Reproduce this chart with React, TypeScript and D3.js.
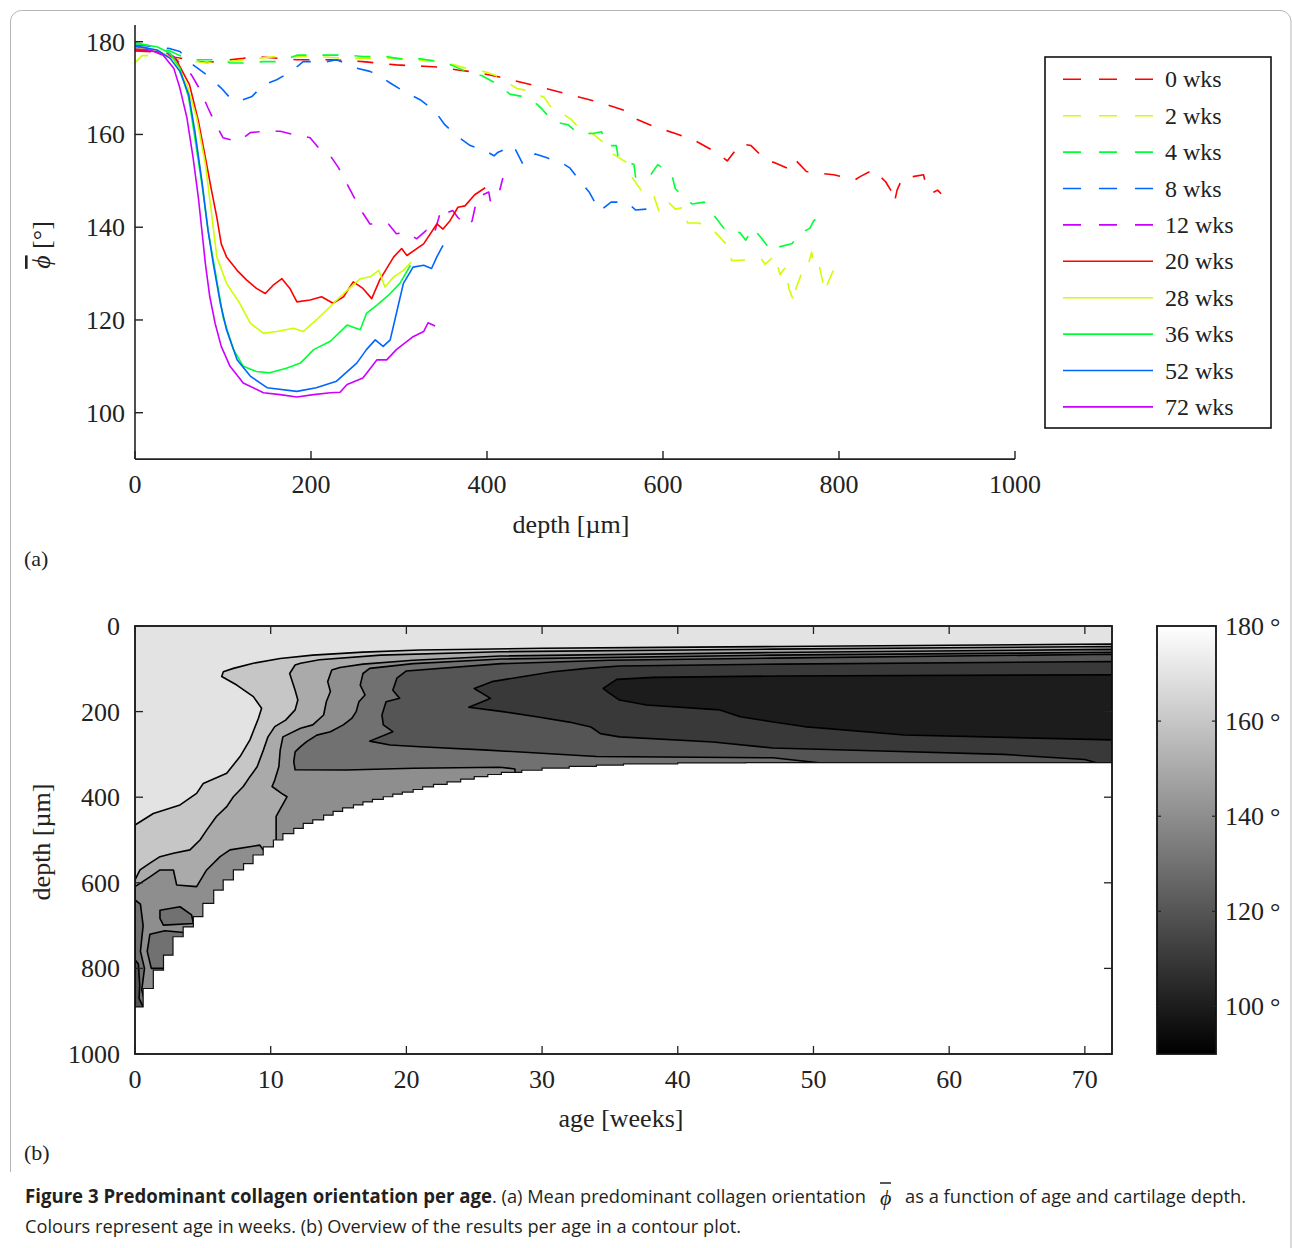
import React from "react";
import * as d3 from "d3";

type P = [number, number];

// ---------- Panel (a) data: depth [µm], mean orientation [deg] ----------
const seriesLabels = ["0 wks", "2 wks", "4 wks", "8 wks", "12 wks", "20 wks", "28 wks", "36 wks", "52 wks", "72 wks"];
const seriesColors = ["#ff0000", "#ccff00", "#00ff33", "#0066ff", "#cc00ff", "#ff0000", "#ccff00", "#00ff33", "#0066ff", "#cc00ff"];
const seriesDashed = [true, true, true, true, true, false, false, false, false, false];

const wk0: P[] = [[0,178],[20,177.8],[40,176.8],[81,175.5],[123,176.4],[138,176.8],[184,176.1],[222,176.1],[259,175.7],[297,175],[328,174.7],[347,174.5],[367,173.9],[387,173.4],[414,172.4],[453,170.6],[492,168.7],[528,166.9],[559,165],[567,163.5],[590,161.7],[614,160.2],[637,158.6],[661,156.1],[673,154.3],[688,158],[700,157.6],[716,154.6],[727,153.9],[745,152.4],[751,154.4],[763,152],[775,151.7],[794,151.3],[818,150.2],[824,150.9],[839,152.4],[853,149.8],[860,147.6],[863,145.4],[866,148],[872,150.6],[884,150.9],[896,151.3],[900,148.4],[908,147.6],[912,148],[916,147.2]];
const wk2: P[] = [[0,175.5],[8,177],[30,177],[50,176.2],[81,175.4],[100,175.6],[160,176.8],[205,176.8],[240,176.4],[300,176.4],[320,176],[340,175.8],[363,175],[375,174.3],[398,173.5],[410,172.7],[434,169.9],[445,169.5],[465,168],[473,165.8],[485,164.6],[496,163.2],[508,160.6],[520,160.2],[539,157.2],[543,155.8],[559,153.9],[563,151.3],[575,148],[581,148.3],[590,146.5],[596,143.1],[606,145.4],[614,143.9],[624,144.3],[628,140.9],[641,140.9],[657,139.4],[675,135.7],[678,132.8],[712,133.1],[716,132],[727,133.9],[733,129.8],[739,131.3],[743,126.8],[749,123.9],[751,126.8],[757,129.8],[763,130.5],[769,134.6],[772,131],[778,131.3],[784,126.1],[788,128.3],[794,130.9],[795,132.4]];
const wk4: P[] = [[0,179.8],[20,179],[40,178],[51,177],[70,176.1],[100,176.1],[108,175.4],[123,175.4],[146,175.7],[165,175.7],[184,177.1],[222,177.1],[241,177.1],[259,176.8],[285,176.8],[301,176.3],[324,176.3],[343,175.8],[359,175],[383,173],[394,172.7],[414,170.6],[426,168.7],[445,168],[457,166.5],[463,165.4],[475,162.8],[492,162.1],[504,160.2],[520,160.2],[530,160.6],[537,157.6],[547,157.6],[549,155],[567,153.5],[569,150.6],[586,151.3],[594,153.5],[610,151.3],[614,148.3],[624,146.5],[633,145],[647,145.4],[657,142.8],[669,139.8],[677,140.2],[688,138.7],[694,137.2],[702,139.8],[712,137.6],[718,136.1],[729,136.8],[731,135.7],[747,136.5],[753,138.3],[767,139.8],[771,141.3],[775,142]];
const wk8: P[] = [[0,179.3],[25,178.9],[40,178.5],[51,177.9],[66,175],[81,172.9],[98,170],[108,167.9],[117,167.1],[133,168.2],[146,170.7],[161,171.8],[178,173.6],[191,175.7],[218,175.7],[229,176.1],[252,174.3],[267,173.6],[275,172.9],[290,171.1],[309,168.9],[324,167.5],[341,165],[352,162.1],[367,159.5],[381,157.6],[398,156.5],[408,155.4],[412,156.1],[430,157.6],[441,153.5],[455,155.8],[469,154.9],[485,153.9],[494,152.8],[508,149.4],[516,147.6],[528,143.5],[541,145.4],[559,145.4],[569,143.7],[581,143.9],[593,144]];
const wk12: P[] = [[0,178.7],[15,178.5],[32,177.9],[44,176.8],[55,174.5],[64,172.9],[74,169.6],[83,165.7],[91,162.5],[100,159.3],[110,158.8],[119,158.6],[131,160.4],[148,160.7],[165,160.7],[180,160],[199,159.3],[210,156.8],[222,155.4],[231,152.9],[241,149.3],[250,146.1],[256,143.9],[267,140.7],[288,140.7],[297,138.6],[309,138.9],[320,137.5],[331,139.3],[339,137.9],[348,143.9],[352,142.9],[361,143.6],[367,142.1],[377,140.2],[383,141.3],[389,146.5],[394,146.9],[402,147.6],[404,145.4],[414,147.6],[418,150.6]];
const wk20: P[] = [[0,178.2],[25,177.9],[47,176.1],[62,170.7],[72,162.9],[80,155],[87,147.9],[93,142.1],[98,136.4],[104,133.6],[116,130.7],[127,128.6],[138,126.8],[148,125.7],[157,127.5],[167,128.9],[176,126.8],[184,123.9],[199,124.3],[212,125],[225,123.6],[237,125],[248,128.2],[259,126.8],[269,124.6],[278,128.6],[294,133.6],[303,135.4],[309,133.9],[328,136.4],[343,140.7],[350,139.6],[358,141.4],[367,144.3],[375,144.6],[386,147],[398,148.5]];
const wk28: P[] = [[0,178.6],[25,178.2],[44,176.1],[59,170.7],[70,163.6],[80,153.6],[87,142.9],[93,133.6],[104,127.9],[119,123.6],[131,119.3],[146,117.1],[161,117.5],[180,118.2],[191,117.5],[206,120],[222,122.9],[237,125.7],[256,128.9],[267,129.3],[277,130.7],[284,127.1],[294,129.3],[305,130.7],[314,132.5]];
const wk36: P[] = [[0,179.6],[25,178.9],[40,177.5],[51,174.3],[61,167.9],[68,159.3],[76,149.3],[83,139.3],[91,130.7],[100,120.7],[112,113.6],[123,110],[138,108.9],[153,108.6],[172,109.6],[188,110.7],[203,113.6],[222,115.4],[241,118.9],[256,117.9],[263,121.4],[275,123.2],[290,125.7],[301,127.9],[313,131.8]];
const wk52: P[] = [[0,179.1],[25,178.2],[40,176.4],[51,173.6],[61,168.6],[68,160.7],[76,150],[83,139.3],[89,132.1],[97,123.6],[104,117.9],[116,111.4],[131,107.9],[150,105.4],[184,104.6],[206,105.4],[229,106.8],[252,110.7],[263,113.6],[273,115.7],[282,114.3],[290,115.7],[297,121.4],[305,127.9],[316,131.4],[328,131.8],[337,131.1],[343,133.6],[350,136.1]];
const wk72: P[] = [[0,178.4],[17,178.2],[32,177.1],[44,174.3],[51,170],[59,163.6],[66,155],[72,146.4],[76,139.3],[80,132.1],[85,125],[91,119.3],[98,114.3],[108,110],[123,106.4],[146,104.3],[165,103.9],[184,103.4],[203,103.9],[222,104.3],[233,104.4],[241,106.1],[259,107.5],[275,111.4],[286,111.4],[297,113.6],[316,116.4],[328,117.5],[333,119.4],[341,118.7]];
const seriesData = [wk0, wk2, wk4, wk8, wk12, wk20, wk28, wk36, wk52, wk72];

const phiTicks = [100, 120, 140, 160, 180];
const depthTicksA = [0, 200, 400, 600, 800, 1000];

// ---------- Panel (b) data: [age weeks, depth µm] ----------
const ageTicks = [0, 10, 20, 30, 40, 50, 60, 70];
const depthTicksB = [0, 200, 400, 600, 800, 1000];
const colorbarTicks = [100, 120, 140, 160, 180];

// measured-tissue depth limit per age column (staircase)
const thickness: P[] = [[0,890],[0.6,847],[1.35,804],[2.1,769],[2.8,726],[3.55,703],[4.3,679],[5.0,648],[5.8,617],[6.5,593],[7.25,570],[8.0,555],[8.7,535],[9.45,516],[10.2,500],[10.9,485],[11.7,473],[12.4,461],[13.1,453],[13.9,442],[14.6,433],[15.3,425],[16.1,418],[16.8,411],[17.5,405],[18.3,399],[19.0,393],[19.7,388],[20.5,382],[21.2,376],[22,370],[23,364],[24,358],[25,352],[26,347],[27,342],[28.5,337],[30,332],[32,328],[34,325],[36,322],[40,320],[45,319],[72,319]];

// contour regions (value below level) as closed rings [age, depth]
const below170: P[] = [[0,465],[1.35,438],[3.32,418],[4.54,391],[5.03,368],[6.76,344],[7.74,305],[8.47,266],[9.09,216],[9.33,192],[8.72,165],[7.5,138],[6.39,118],[6.51,107],[7.25,99],[8.72,87],[10.7,76],[13.1,68],[16.8,61],[21,56],[30,52],[38.7,50],[47.5,48],[60,45],[72,42],[72,1000],[0,1000]];
const below160: P[] = [[0,593],[0.37,570],[1.1,554],[1.84,539],[2.83,531],[4.05,523],[4.79,500],[5.28,477],[6.0,445],[6.76,422],[7.25,399],[7.98,375],[8.47,352],[9.0,329],[9.46,290],[9.8,259],[10.3,235],[11.1,220],[11.8,196],[12.0,173],[11.8,150],[11.4,111],[11.8,91],[12.2,87],[13.6,79],[18.1,68],[26.9,60],[47,54],[72,48],[72,1000],[0,1000]];
const below150a: P[] = [[10.4,600],[10.4,445],[11.2,399],[10.8,391],[10.1,375],[10.3,360],[10.6,329],[10.7,290],[10.9,259],[12.2,239],[13.1,231],[13.9,208],[14.1,177],[14.4,153],[14.2,130],[14.5,103],[15.1,97],[16.8,89],[20.5,80],[26.9,70],[47,62],[72,54.5],[72,1000],[10.4,1000]];
const below150b: P[] = [[0,609],[1.1,586],[1.84,570],[2.83,570],[3.07,605],[4.54,609],[5.28,570],[6.27,539],[7.0,523],[9.2,512],[9.6,530],[9.6,1000],[0,1000]];
const below140a: P[] = [[11.8,336],[11.7,317],[11.8,294],[12.2,282],[12.65,270],[13.4,255],[14.4,247],[15.35,231],[15.97,216],[16.3,200],[16.5,177],[16.95,161],[16.6,138],[16.8,111],[17.3,99],[20.5,88],[27,77],[47,68],[72,61.5],[72,1000],[29,1000],[28,334],[26.9,330],[20.5,332.5],[15.6,336.5]];
const below140b: P[] = [[1.84,664],[3.32,656],[4.17,675],[4.3,695],[2.09,699],[1.84,683]];
const below140c: P[] = [[1.1,720],[2.2,712],[3.6,716],[3.8,800],[1.2,800],[0.9,760]];
const below140d: P[] = [[0,640],[0.4,650],[0.6,700],[0.4,760],[0.7,800],[0.5,850],[0.8,890],[0,895]];
const below130a: P[] = [[17.3,269],[19.0,247],[18.3,231],[18.2,208],[18.5,177],[19.5,169],[19.0,150],[19.3,122],[20,105],[27,88],[35,80],[47,75],[72,66],[72,330],[52,325],[47,308],[34,305],[26,290],[21,282],[18.8,278]];
const below130b: P[] = [[0,780],[0.25,790],[0.35,840],[0.3,870],[0.6,890],[0,895]];
const below120: P[] = [[24.6,190],[25.6,177],[26.2,169],[25,146],[26.3,130],[28.4,119],[30.8,107],[33.3,99],[35.7,93.5],[47.6,89],[72,83],[72,330],[70,312],[64,300],[55,292],[47,285],[42.6,271],[35.7,259],[34.3,251.5],[33.6,236],[32,224.5],[29.6,212],[27.1,200]];
const below110: P[] = [[34.5,145.6],[35.5,124.6],[38.2,120],[47.6,116.8],[72,114],[72,266],[56.7,254.6],[49.3,235],[46.8,223],[44.6,212],[43.1,196],[37.7,184.6],[35.7,173],[34.8,153.4]];

const contourRegions: { level: number; rings: P[][] }[] = [
  { level: 170, rings: [below170] },
  { level: 160, rings: [below160] },
  { level: 150, rings: [below150a, below150b] },
  { level: 140, rings: [below140a, below140b, below140c, below140d] },
  { level: 130, rings: [below130a, below130b] },
  { level: 120, rings: [below120] },
  { level: 110, rings: [below110] },
];

const SERIF = "'Liberation Serif', 'Times New Roman', serif";
const SANS = "'Liberation Sans Narrow', 'Open Sans', 'Noto Sans', sans-serif";
const PHI = "\u03D5";

export default function App() {
  const xA = d3.scaleLinear().domain([0, 1000]).range([135, 1015]);
  const yA = d3.scaleLinear().domain([90, 183.6]).range([459.1, 25]);
  const xB = d3.scaleLinear().domain([0, 72]).range([135, 1112]);
  const yB = d3.scaleLinear().domain([0, 1000]).range([626, 1054]);
  const cbY = d3.scaleLinear().domain([90, 180]).range([1054, 626]);
  const grey = d3.scaleLinear<string>().domain([90, 180]).range(["#000000", "#ffffff"]);

  const lineA = d3.line<P>().x((d) => xA(d[0])).y((d) => yA(d[1]));
  const ringB = d3.line<P>().x((d) => xB(d[0])).y((d) => yB(d[1]));
  const nanArea = d3
    .area<P>()
    .x((d) => xB(d[0]))
    .y0(yB(1000))
    .y1((d) => yB(d[1]))
    .curve(d3.curveStepAfter);
  const nanEdge = d3.line<P>().x((d) => xB(d[0])).y((d) => yB(d[1])).curve(d3.curveStepAfter);

  const legX0 = 1045, legY0 = 57, legW = 226, legH = 371;
  const legRow = 36.4;

  const tickCol = "#222";
  const frameB = { x0: xB(0), x1: xB(72), y0: yB(0), y1: yB(1000) };
  const cbx0 = 1157, cbx1 = 1216;

  return (
    <svg width={1292} height={1248} style={{ position: "absolute", left: 0, top: 0, background: "#fff" }}>
      <defs>
        <clipPath id="plotB">
          <rect x={frameB.x0} y={frameB.y0} width={frameB.x1 - frameB.x0} height={frameB.y1 - frameB.y0} />
        </clipPath>
        <linearGradient id="cbGrad" x1="0" y1="1" x2="0" y2="0">
          <stop offset="0%" stopColor={grey(90)} />
          <stop offset="100%" stopColor={grey(180)} />
        </linearGradient>
      </defs>
      <rect x={0} y={0} width={1292} height={1248} fill="#fff" />

      {/* outer figure frame */}
      <path d="M10.5,1172 V21 A11,11 0 0 1 21.5,10.5 H1280 A11,11 0 0 1 1291,21 V1248" fill="none" stroke="#b5b5b5" strokeWidth={1} />

      {/* ---------------- Panel (a) ---------------- */}
      <g>
        {seriesData.map((d, i) => (
          <path
            key={i}
            d={lineA(d) || ""}
            fill="none"
            stroke={seriesColors[i]}
            strokeWidth={1.6}
            strokeDasharray={seriesDashed[i] ? "16 16" : undefined}
            strokeLinejoin="round"
          />
        ))}
        {/* axes */}
        <line x1={xA(0)} x2={xA(0)} y1={25} y2={yA(90)} stroke={tickCol} strokeWidth={1.6} />
        <line x1={xA(0)} x2={xA(1000)} y1={yA(90)} y2={yA(90)} stroke={tickCol} strokeWidth={1.6} />
        {phiTicks.map((t) => (
          <g key={"py" + t}>
            <line x1={xA(0)} x2={xA(0) + 8} y1={yA(t)} y2={yA(t)} stroke={tickCol} strokeWidth={1.4} />
            <text x={125} y={yA(t) + 9} textAnchor="end" fontFamily={SERIF} fontSize={26} fill="#222">{t}</text>
          </g>
        ))}
        {depthTicksA.map((t) => (
          <g key={"px" + t}>
            <line x1={xA(t)} x2={xA(t)} y1={yA(90)} y2={yA(90) - 8} stroke={tickCol} strokeWidth={1.4} />
            <text x={xA(t)} y={493} textAnchor="middle" fontFamily={SERIF} fontSize={26} fill="#222">{t}</text>
          </g>
        ))}
        <text x={571} y={533} textAnchor="middle" fontFamily={SERIF} fontSize={26} fill="#222">depth [µm]</text>
        <text transform="translate(50,245) rotate(-90)" textAnchor="middle" fontFamily={SERIF} fontSize={26} fill="#222">
          <tspan fontStyle="italic" textDecoration="overline">{PHI}</tspan>
          <tspan> [°]</tspan>
        </text>
        <text x={24} y={566} fontFamily={SERIF} fontSize={22} fill="#222">(a)</text>

        {/* legend */}
        <rect x={legX0} y={legY0} width={legW} height={legH} fill="#fff" stroke="#111" strokeWidth={1.6} />
        {seriesLabels.map((lab, i) => {
          const y = 79.3 + i * legRow;
          return (
            <g key={"leg" + i}>
              <line x1={1063} x2={1153} y1={y} y2={y} stroke={seriesColors[i]} strokeWidth={1.6} strokeDasharray={seriesDashed[i] ? "18 18" : undefined} />
              <text x={1165} y={y + 8} fontFamily={SERIF} fontSize={24} fill="#222">{lab}</text>
            </g>
          );
        })}
      </g>

      {/* ---------------- Panel (b) ---------------- */}
      <g>
        <g clipPath="url(#plotB)">
          <rect x={frameB.x0} y={frameB.y0} width={frameB.x1 - frameB.x0} height={frameB.y1 - frameB.y0} fill={grey(170)} />
          {contourRegions.map((r) =>
            r.rings.map((ring, j) => (
              <path
                key={r.level + "-" + j}
                d={(ringB(ring) || "") + "Z"}
                fill={grey(r.level - 10)}
                stroke="#000"
                strokeWidth={1.6}
                strokeLinejoin="round"
              />
            ))
          )}
          <path d={nanArea(thickness) || ""} fill="#fff" stroke="none" />
          <path d={nanEdge(thickness) || ""} fill="none" stroke="#111" strokeWidth={1.2} />
        </g>
        <rect x={frameB.x0} y={frameB.y0} width={frameB.x1 - frameB.x0} height={frameB.y1 - frameB.y0} fill="none" stroke="#111" strokeWidth={1.8} />
        {ageTicks.map((t) => (
          <g key={"bx" + t}>
            <line x1={xB(t)} x2={xB(t)} y1={frameB.y1} y2={frameB.y1 - 8} stroke={tickCol} strokeWidth={1.3} />
            <line x1={xB(t)} x2={xB(t)} y1={frameB.y0} y2={frameB.y0 + 8} stroke={tickCol} strokeWidth={1.3} />
            <text x={xB(t)} y={1088} textAnchor="middle" fontFamily={SERIF} fontSize={26} fill="#222">{t}</text>
          </g>
        ))}
        {depthTicksB.map((t) => (
          <g key={"by" + t}>
            <line x1={frameB.x0} x2={frameB.x0 + 8} y1={yB(t)} y2={yB(t)} stroke={tickCol} strokeWidth={1.3} />
            <line x1={frameB.x1} x2={frameB.x1 - 8} y1={yB(t)} y2={yB(t)} stroke={tickCol} strokeWidth={1.3} />
            <text x={120} y={yB(t) + 9} textAnchor="end" fontFamily={SERIF} fontSize={26} fill="#222">{t}</text>
          </g>
        ))}
        <text x={621} y={1127} textAnchor="middle" fontFamily={SERIF} fontSize={26} fill="#222">age [weeks]</text>
        <text transform="translate(50,842) rotate(-90)" textAnchor="middle" fontFamily={SERIF} fontSize={26} fill="#222">depth [µm]</text>
        <text x={24} y={1160} fontFamily={SERIF} fontSize={22} fill="#222">(b)</text>

        {/* colorbar */}
        <rect x={cbx0} y={cbY(180)} width={cbx1 - cbx0} height={cbY(90) - cbY(180)} fill="url(#cbGrad)" stroke="#111" strokeWidth={1.8} />
        {colorbarTicks.map((t) => (
          <g key={"cb" + t}>
            {t < 180 && <line x1={cbx0} x2={cbx0 + 4} y1={cbY(t)} y2={cbY(t)} stroke="#222" strokeWidth={1.2} />}
            {t < 180 && <line x1={cbx1} x2={cbx1 - 4} y1={cbY(t)} y2={cbY(t)} stroke="#222" strokeWidth={1.2} />}
            <text x={1225} y={cbY(t) + 9} fontFamily={SERIF} fontSize={26} fill="#222">
              {t}
              <tspan dx={6}>°</tspan>
            </text>
          </g>
        ))}
      </g>

      {/* ---------------- Caption ---------------- */}
      <g fill="#231f20">
        <text x={25} y={1203} fontFamily={SANS} fontSize={19} fontWeight="bold" textLength={467} lengthAdjust="spacingAndGlyphs">
          Figure 3 Predominant collagen orientation per age
        </text>
        <text x={492} y={1203} fontFamily={SANS} fontSize={19} textLength={374} lengthAdjust="spacingAndGlyphs">
          . (a) Mean predominant collagen orientation
        </text>
        <text x={880} y={1205} fontFamily={SERIF} fontSize={22} fontStyle="italic">{PHI}</text>
        <line x1={880} x2={891} y1={1183} y2={1183} stroke="#231f20" strokeWidth={1.5} />
        <text x={905} y={1203} fontFamily={SANS} fontSize={19} textLength={341} lengthAdjust="spacingAndGlyphs">
          as a function of age and cartilage depth.
        </text>
        <text x={25} y={1233} fontFamily={SANS} fontSize={19} textLength={716} lengthAdjust="spacingAndGlyphs">
          Colours represent age in weeks. (b) Overview of the results per age in a contour plot.
        </text>
      </g>
    </svg>
  );
}
